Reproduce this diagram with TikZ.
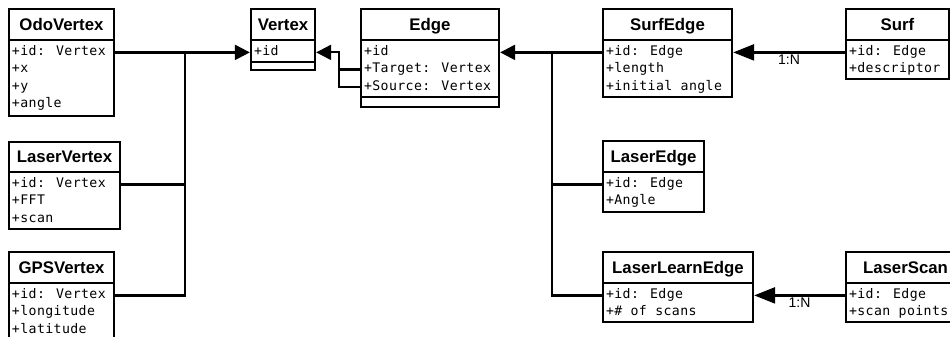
\documentclass[tikz,border=0pt]{standalone}
\usepackage{fontspec}
\setmainfont{Liberation Sans}
\newfontfamily\attrfont[LetterSpace=3]{DejaVu Sans Mono}
\usetikzlibrary{arrows.meta,fit}

\tikzset{
  frame/.style={draw, line width=2.3pt, inner sep=0pt, fill=white},
  rule/.style={line width=2.2pt},
  classtitle/.style={anchor=base, inner sep=0pt, font=\fontsize{16.8}{18}\selectfont\bfseries},
  attr/.style={anchor=base west, inner sep=0pt, text height=9pt, text depth=2.2pt,
               font=\fontsize{13.2}{15}\attrfont},
  link/.style={line width=2.3pt},
  thinlink/.style={line width=2.1pt},
  inherit/.style={-{Triangle[length=15pt,width=15pt]}},
  assoc/.style={line width=2.3pt, -{Triangle[length=21pt,width=16pt]}},
  mult/.style={below, inner sep=1.5pt, font=\fontsize{14}{15}\selectfont},
}

% \umlclass{name}{left}{top}{right}{bottom}{header line y}{title}{attribute rows}
\newcommand\umlclass[8]{%
  \node[frame, fit={(#2,#3) (#4,#5)}] (#1) {};
  \node[classtitle] (#1-t) at ({(#2+#4)/2}, {#6-9.5}) {#7};
  \draw[rule] (#1.west |- 0,#6) -- (#1.east |- 0,#6);
  \foreach \r [count=\i] in {#8}
    \node[attr] (#1-\i) at ({#2+2.8}, {#6+15.8+(\i-1)*17.1}) {\r};
}

\begin{document}
\begin{tikzpicture}[x=1pt, y=-1pt]
  \useasboundingbox (0,0) rectangle (950,337);
  \fill[white] (0,0) rectangle (950,337);
  \clip (0,0) rectangle (950,337);

  % vertex hierarchy
  \umlclass{odo}{9}{9}{114}{116}{40}{OdoVertex}{+id: Vertex,+x,+y,+angle}
  \umlclass{vertex}{251}{9}{315}{70}{40}{Vertex}{+id}
  \draw[rule] (vertex.west |- 0,62) -- (vertex.east |- 0,62);
  \umlclass{lvertex}{9}{142}{120}{229}{172}{LaserVertex}{+id: Vertex,+FFT,+scan}
  \umlclass{gps}{9}{252}{114}{350}{283}{GPSVertex}{+id: Vertex,+longitude,+latitude}

  % edge hierarchy
  \umlclass{edge}{361}{9}{499}{107}{40}{Edge}{+id,+Target: Vertex,+Source: Vertex}
  \draw[rule] (edge.west |- 0,97) -- (edge.east |- 0,97);
  \umlclass{surfedge}{603}{9}{732}{97}{40}{SurfEdge}{+id: Edge,+length,+initial angle}
  \umlclass{surf}{846}{9}{949}{79}{40}{Surf}{+id: Edge,+descriptor}
  \umlclass{ledge}{603}{141}{704}{212}{172}{LaserEdge}{+id: Edge,+Angle}
  \umlclass{lledge}{603}{252}{753}{322}{283}{LaserLearnEdge}{+id: Edge,+\# of scans}
  \umlclass{lscan}{846}{252}{965}{322}{283}{LaserScan}{+id: Edge,+scan points}

  % junction points of the generalisation trees
  \coordinate (vjoin) at (185,0 |- odo-1);
  \coordinate (ejoin) at (339,0 |- edge-1);
  \coordinate (sjoin) at (552,0 |- surfedge-1);

  % vertex generalisations
  \draw[link, inherit] (odo.east |- odo-1) -- (vertex.west |- vertex-1);
  \draw[link] (lvertex.east |- lvertex-1) -| (vjoin);
  \draw[link] (gps.east |- gps-1) -| (vjoin);

  % edge references to vertices
  \draw[thinlink, inherit] (edge.west |- edge-2) -| (ejoin) -- (vertex.east |- vertex-1);
  \draw[thinlink] (edge.west |- edge-3) -| (ejoin);

  % edge generalisations
  \draw[link, inherit] (surfedge.west |- surfedge-1) -- (edge.east |- edge-1);
  \draw[link] (ledge.west |- ledge-1) -| (sjoin);
  \draw[link] (lledge.west |- lledge-1) -| (sjoin);

  % associations
  \draw[assoc] (surf.west |- surf-1) -- node[mult] (m1) {1:N} (surfedge.east |- surfedge-1);
  \draw[assoc] (lscan.west |- lscan-1) -- node[mult] (m2) {1:N} (lledge.east |- lledge-1);
\end{tikzpicture}
\end{document}
